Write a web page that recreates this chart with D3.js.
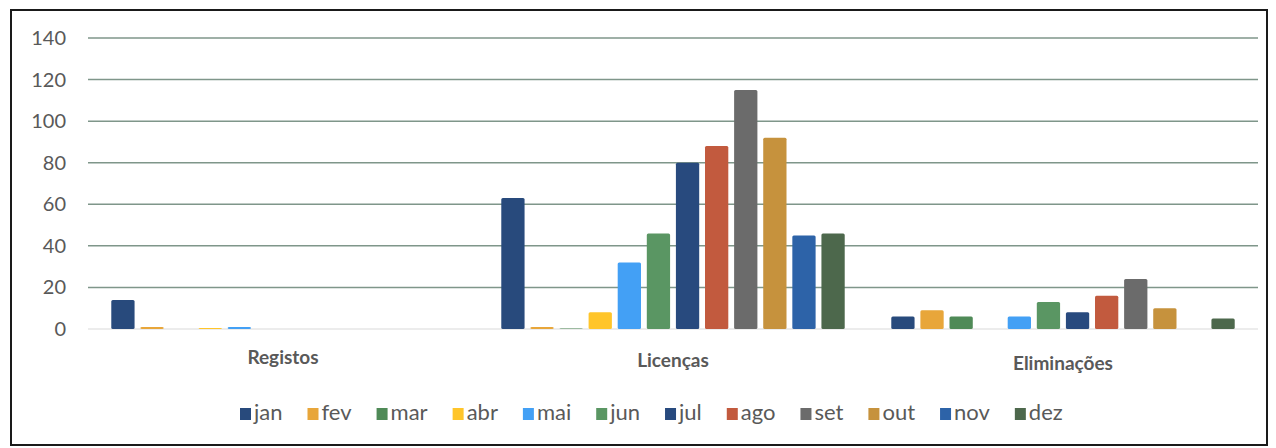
<!DOCTYPE html>
<html>
<head>
<meta charset="utf-8">
<script src="https://cdn.jsdelivr.net/npm/d3@7"></script>
<style>
  body { margin: 0; background: #fff; }
  svg { display: block; font-family: Lato, "Open Sans", sans-serif; }
</style>
</head>
<body>
<svg id="chart" width="1276" height="448"></svg>
<script>
// data
var categories = ["Registos", "Licenças", "Eliminações"];
var months     = ["jan","fev","mar","abr","mai","jun","jul","ago","set","out","nov","dez"];
var registos   = [14, 1, 0, 0.5, 1, 0, 0, 0, 0, 0, 0, 0];
var licencas   = [63, 1, 0.3, 8, 32, 46, 80, 88, 115, 92, 45, 46];
var eliminacoes= [6, 9, 6, 0, 6, 13, 8, 16, 24, 10, 0, 5];
var yTicks     = [0, 20, 40, 60, 80, 100, 120, 140];
var colors     = ["#284a7c","#e8a63a","#4f8a57","#ffc52a","#43a0f5","#5a9663",
                  "#284a7e","#c25a3e","#6b6b6b","#c6923d","#2d63a8","#4d684c"];

var series = [registos, licencas, eliminacoes];

var svg = d3.select("#chart");

// outer frame
svg.append("rect")
   .attr("x", 11).attr("y", 10)
   .attr("width", 1256).attr("height", 435)
   .attr("fill", "#fff")
   .attr("stroke", "#1a1a1a")
   .attr("stroke-width", 2);

var x0 = d3.scaleBand().domain(categories).range([88, 1258]);
var x1 = d3.scaleBand().domain(months).range([0, x0.bandwidth()])
           .paddingInner(0.2).paddingOuter(0.8);
var y  = d3.scaleLinear().domain([0, 140]).range([329, 38]);

// grid lines
svg.append("g").selectAll("line").data(yTicks.filter(function(d){ return d > 0; }))
   .enter().append("line")
   .attr("x1", 88).attr("x2", 1258)
   .attr("y1", function(d){ return y(d); })
   .attr("y2", function(d){ return y(d); })
   .attr("stroke", "#7f968a")
   .attr("stroke-width", 1.5);

// baseline
svg.append("line")
   .attr("x1", 88).attr("x2", 1258)
   .attr("y1", y(0)).attr("y2", y(0))
   .attr("stroke", "#d9d9d9")
   .attr("stroke-width", 1);

// y tick labels
svg.append("g").selectAll("text").data(yTicks)
   .enter().append("text")
   .attr("x", 66)
   .attr("y", function(d){ return y(d); })
   .attr("dy", "0.35em")
   .attr("text-anchor", "end")
   .attr("font-size", 20)
   .attr("fill", "#595959")
   .text(function(d){ return d; });

// bars
var groups = svg.append("g").selectAll("g").data(categories)
   .enter().append("g")
   .attr("transform", function(d){ return "translate(" + x0(d) + ",0)"; });

groups.selectAll("rect")
   .data(function(d, i){
     return months.map(function(m, j){ return {month: m, value: series[i][j], idx: j}; });
   })
   .enter().append("rect")
   .attr("x", function(d){ return x1(d.month); })
   .attr("y", function(d){ return y(d.value); })
   .attr("width", x1.bandwidth())
   .attr("height", function(d){ return y(0) - y(d.value); })
   .attr("rx", 1.5)
   .attr("fill", function(d){ return colors[d.idx]; });

// category labels
svg.append("g").selectAll("text").data(categories)
   .enter().append("text")
   .attr("x", function(d){ return x0(d) + x0.bandwidth()/2; })
   .attr("y", function(d, i){ return 364 + i*3; })
   .attr("text-anchor", "middle")
   .attr("font-size", 19)
   .attr("font-weight", "bold")
   .attr("fill", "#595959")
   .text(function(d){ return d; });

// legend, laid out from measured text widths
var legend = svg.append("g");
var items = legend.selectAll("g").data(months).enter().append("g");
items.append("rect")
   .attr("width", 11).attr("height", 12)
   .attr("y", -12)
   .attr("fill", function(d, i){ return colors[i]; });
items.append("text")
   .attr("x", 14)
   .attr("font-size", 22)
   .attr("fill", "#595959")
   .text(function(d){ return d; });

var pos = 240;
items.each(function(){
  var g = d3.select(this);
  g.attr("transform", "translate(" + pos + ",420)");
  pos += 14 + g.select("text").node().getComputedTextLength() + 25;
});
</script>
</body>
</html>
